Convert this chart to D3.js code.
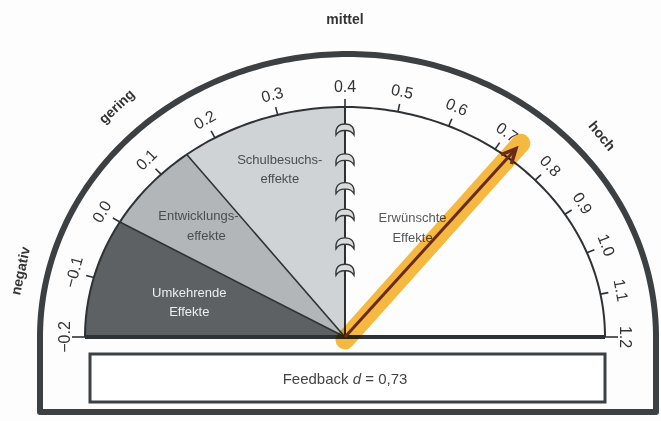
<!DOCTYPE html>
<html>
<head>
<meta charset="utf-8">
<script src="https://cdn.jsdelivr.net/npm/d3@7"></script>
<style>
  body { margin: 0; background: #fdfdfd; }
  text { font-family: "Liberation Sans", Arial, sans-serif; }
</style>
</head>
<body>
<div class="barometer"></div>
<script>
// scale ticks of the barometer
const tickValues = [-0.2, -0.1, 0.0, 0.1, 0.2, 0.3, 0.4, 0.5, 0.6, 0.7, 0.8, 0.9, 1.0, 1.1, 1.2];
const tickLabels = ["\u22120.2", "\u22120.1", "0.0", "0.1", "0.2", "0.3", "0.4", "0.5", "0.6", "0.7", "0.8", "0.9", "1.0", "1.1", "1.2"];

// zones
const zoneNames = [["Umkehrende", "Effekte"], ["Entwicklungs-", "effekte"], ["Schulbesuchs-", "effekte"], ["Erwünschte", "Effekte"]];
const zoneFrom = [-0.2, 0.0, 0.15, 0.4];
const zoneTo = [0.0, 0.15, 0.4, 1.2];

// outer category words
const categories = ["negativ", "gering", "mittel", "hoch"];
const categoryAt = [-0.12, 0.11, 0.4, 0.835];

// the effect
const effectName = "Feedback";
const effectD = 0.73;

const W = 661, H = 421;
const cx = 345, cy = 337;
const rx = 260, ry = 230;        // inner dial
const ocx = 348, orx = 308, ory = 283;      // outer frame

const zoneFill = ["#5d6164", "#b3b6b9", "#d0d3d6", "none"];
const zoneText = ["#eceded", "#4b4e51", "#4b4e51", "#55585b"];
const zoneLabelAt = [[-0.1, 0.62], [0.075, 0.75], [0.275, 0.78], [0.64, 0.55]];
const zoneShift = [0, 8, 0, 0];

// non-linear dial: -0.2..0.4 on the left quarter, 0.4..1.2 on the right quarter
const angle = d3.scaleLinear().domain([-0.2, 0.4, 0.8, 1.2]).range([180, 90, 43, 0]);
const rad = d => angle(d) * Math.PI / 180;
const px = (v, k) => cx + rx * k * Math.cos(rad(v));
const py = (v, k) => cy - ry * k * Math.sin(rad(v));

const svg = d3.select('.barometer')
    .append('svg')
    .attr('width', W)
    .attr('height', H);

svg.append('rect').attr('width', W).attr('height', H).attr('fill', '#fdfdfd');

// zone sectors
function sectorPath(a, b) {
    const steps = 60;
    let pts = [[cx, cy]];
    for (let i = 0; i <= steps; i++) {
        const v = a + (b - a) * i / steps;
        pts.push([px(v, 1), py(v, 1)]);
    }
    return d3.line()(pts) + 'Z';
}

svg.selectAll('.zone')
    .data(zoneFrom)
    .enter()
    .append('path')
    .attr('class', 'zone')
    .attr('d', (d, i) => sectorPath(d, zoneTo[i]))
    .attr('fill', (d, i) => zoneFill[i]);

// boundary lines
svg.selectAll('.bound')
    .data([0.0, 0.15])
    .enter()
    .append('line')
    .attr('x1', cx).attr('y1', cy)
    .attr('x2', d => px(d, 1)).attr('y2', d => py(d, 1))
    .attr('stroke', '#2f3235')
    .attr('stroke-width', 1.6);

// 0.4 line
svg.append('line')
    .attr('x1', cx).attr('y1', cy)
    .attr('x2', px(0.4, 1)).attr('y2', py(0.4, 1))
    .attr('stroke', '#2f3235')
    .attr('stroke-width', 2);

// hooks along the 0.4 line
const hookAt = [0.9, 0.77, 0.645, 0.53, 0.405, 0.29];
svg.selectAll('.hook')
    .data(hookAt)
    .enter()
    .append('path')
    .attr('class', 'hook')
    .attr('transform', d => 'translate(' + px(0.4, d) + ',' + py(0.4, d) + ')')
    .attr('d', 'M-9,5 Q-10,-6 0,-6 Q10,-6 9,5 Q6,0 0,0.5 Q-6,0 -9,5 Z')
    .attr('fill', '#d9dbdd')
    .attr('stroke', '#35383b')
    .attr('stroke-width', 1.4);

// inner arc
const arcPts = d3.range(0, 181).map(i => {
    const v = -0.2 + 1.4 * i / 180;
    return [px(v, 1), py(v, 1)];
});
svg.append('path')
    .attr('d', d3.line()(arcPts))
    .attr('fill', 'none')
    .attr('stroke', '#2f3235')
    .attr('stroke-width', 2);

// ticks
svg.selectAll('.tick')
    .data(tickValues)
    .enter()
    .append('line')
    .attr('x1', d => px(d, 1)).attr('y1', d => py(d, 1))
    .attr('x2', d => cx + (rx + (d === -0.2 || d === 1.2 ? 13 : 8)) * Math.cos(rad(d)))
    .attr('y2', d => cy - (ry + (d === -0.2 || d === 1.2 ? 13 : 8)) * Math.sin(rad(d)))
    .attr('stroke', '#2f3235')
    .attr('stroke-width', 1.6);

svg.selectAll('.tlabel')
    .data(tickValues)
    .enter()
    .append('text')
    .attr('transform', d => {
        const x = cx + (rx + 21) * Math.cos(rad(d));
        const y = cy - (ry + 21) * Math.sin(rad(d));
        return 'translate(' + x + ',' + y + ') rotate(' + (90 - angle(d)) + ')';
    })
    .attr('text-anchor', 'middle')
    .attr('dy', '0.35em')
    .attr('font-size', 16)
    .attr('fill', '#333')
    .text((d, i) => tickLabels[i]);

// zone labels
svg.selectAll('.zlabel')
    .data(zoneNames)
    .enter()
    .append('text')
    .attr('x', (d, i) => px(zoneLabelAt[i][0], zoneLabelAt[i][1]))
    .attr('y', (d, i) => py(zoneLabelAt[i][0], zoneLabelAt[i][1]))
    .attr('text-anchor', 'middle')
    .attr('font-size', 13)
    .attr('fill', (d, i) => zoneText[i])
    .each(function(d, i) {
        const x = +d3.select(this).attr('x');
        d3.select(this).append('tspan').attr('x', x).attr('dy', '-0.25em').text(d[0]);
        d3.select(this).append('tspan').attr('x', x + zoneShift[i]).attr('dy', '1.5em').text(d[1]);
    });

// baseline
svg.append('line')
    .attr('x1', px(-0.2, 1)).attr('y1', cy)
    .attr('x2', px(1.2, 1)).attr('y2', cy)
    .attr('stroke', '#2f3235')
    .attr('stroke-width', 4);

// outer frame
const outerPts = d3.range(0, 181).map(i => {
    const a = Math.PI * i / 180;
    return [ocx - orx * Math.cos(a), cy - ory * Math.sin(a)];
});
outerPts.push([ocx + orx, 412]);
outerPts.push([ocx - orx, 412]);
svg.append('path')
    .attr('d', d3.line()(outerPts) + 'Z')
    .attr('fill', 'none')
    .attr('stroke', '#3d4043')
    .attr('stroke-width', 6)
    .attr('stroke-linejoin', 'round');

// category words
svg.selectAll('.cat')
    .data(categories)
    .enter()
    .append('text')
    .attr('transform', (d, i) => {
        const v = categoryAt[i];
        const x = cx + 332 * Math.cos(rad(v));
        const y = cy - 318 * Math.sin(rad(v));
        return 'translate(' + x + ',' + y + ') rotate(' + (90 - angle(v)) + ')';
    })
    .attr('text-anchor', 'middle')
    .attr('dy', '0.35em')
    .attr('font-size', 14)
    .attr('font-weight', 'bold')
    .attr('fill', '#333')
    .text(d => d);

// feedback box
svg.append('rect')
    .attr('x', px(-0.2, 1) + 5).attr('y', 354)
    .attr('width', px(1.2, 1) - px(-0.2, 1) - 5).attr('height', 48)
    .attr('fill', '#fff')
    .attr('stroke', '#3d4043')
    .attr('stroke-width', 3);

const ft = svg.append('text')
    .attr('x', cx).attr('y', 384)
    .attr('text-anchor', 'middle')
    .attr('font-size', 15)
    .attr('fill', '#444');
ft.append('tspan').text(effectName + ' ');
ft.append('tspan').attr('font-style', 'italic').text('d');
ft.append('tspan').text(' = ' + String(effectD).replace('.', ','));

// highlighted arrow
const tipX = px(effectD, 1.05), tipY = py(effectD, 1.05);
svg.append('line')
    .attr('x1', cx).attr('y1', cy + 3)
    .attr('x2', px(effectD, 1.08)).attr('y2', py(effectD, 1.08))
    .attr('stroke', '#f6ae1e')
    .attr('stroke-opacity', 0.85)
    .attr('stroke-width', 19)
    .attr('stroke-linecap', 'round')
    .style('mix-blend-mode', 'multiply');

svg.append('line')
    .attr('x1', cx).attr('y1', cy)
    .attr('x2', tipX).attr('y2', tipY)
    .attr('stroke', '#6b2b1b')
    .attr('stroke-width', 3);

const dir = Math.atan2(tipY - cy, tipX - cx);
const head = d3.line()([
    [tipX - 16 * Math.cos(dir - 0.45), tipY - 16 * Math.sin(dir - 0.45)],
    [tipX, tipY],
    [tipX - 16 * Math.cos(dir + 0.45), tipY - 16 * Math.sin(dir + 0.45)]
]);
svg.append('path')
    .attr('d', head)
    .attr('fill', 'none')
    .attr('stroke', '#6b2b1b')
    .attr('stroke-width', 3.5)
    .attr('stroke-linejoin', 'miter');
</script>
</body>
</html>
